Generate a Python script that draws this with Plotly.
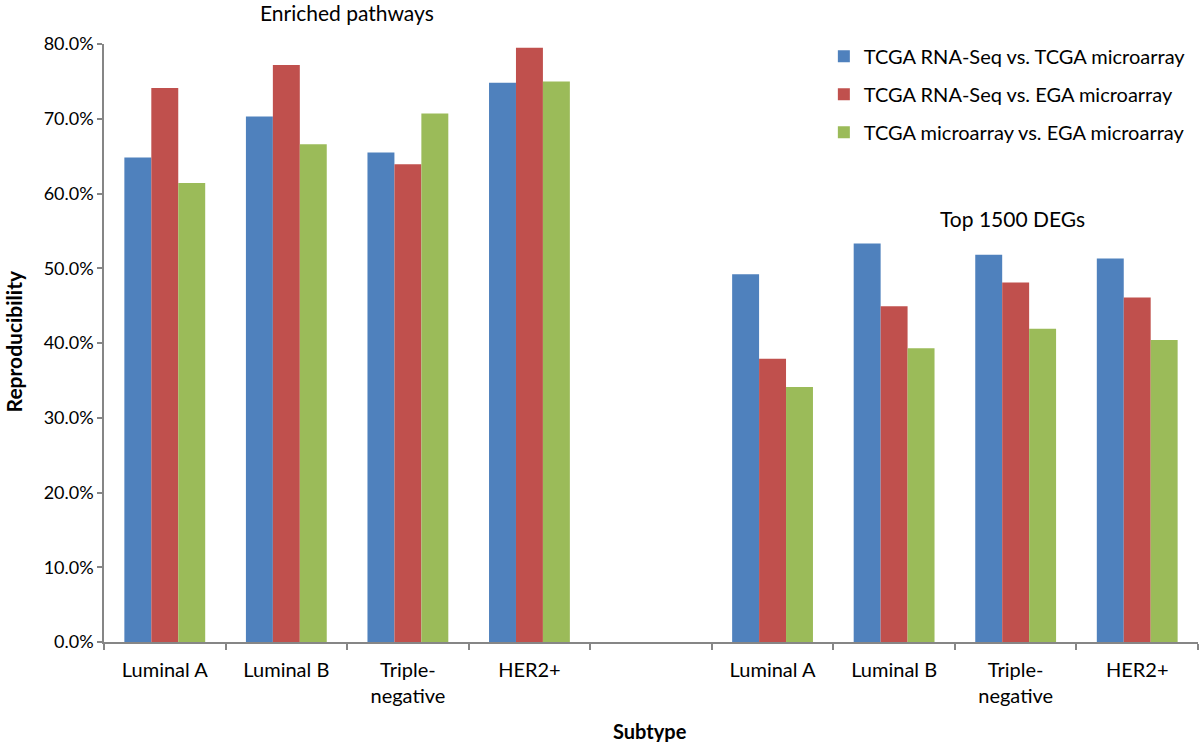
import plotly.graph_objects as go

subtypes = ["Luminal A", "Luminal B", "Triple-<br>negative", "HER2+"]
panels = ["Enriched pathways", "Top 1500 DEGs"]
series_names = [
    "TCGA RNA-Seq vs. TCGA microarray",
    "TCGA RNA-Seq vs. EGA microarray",
    "TCGA microarray vs. EGA microarray",
]
# reproducibility (fraction) per subtype, enriched pathways then top 1500 DEGs
rnaseq_vs_tcga_array = [0.648, 0.703, 0.655, 0.748, 0.492, 0.533, 0.518, 0.513]
rnaseq_vs_ega_array = [0.741, 0.772, 0.639, 0.795, 0.379, 0.449, 0.481, 0.461]
tcga_array_vs_ega_array = [0.614, 0.666, 0.707, 0.750, 0.341, 0.393, 0.419, 0.404]

colors = ["#4F81BD", "#C0504D", "#9BBB59"]
FONT = "Lato"
AXIS_GREY = "#868686"

# 4 subtypes, an empty gap slot, 4 subtypes
x_pos = [0, 1, 2, 3, 5, 6, 7, 8]
tick_text = subtypes + [""] + subtypes

fig = go.Figure()
for name, vals, col in zip(series_names,
                           [rnaseq_vs_tcga_array, rnaseq_vs_ega_array, tcga_array_vs_ega_array],
                           colors):
    fig.add_trace(go.Bar(x=x_pos, y=vals, name=name, marker=dict(color=col, line_width=0),
                         legendgroup=name))

fig.update_layout(
    width=1200, height=742,
    paper_bgcolor="white", plot_bgcolor="white",
    font=dict(family=FONT, size=18, color="black"),
    barmode="group", bargap=0.335, bargroupgap=0,
    margin=dict(l=104, r=2, t=44, b=100),
    legend=dict(x=0.658, y=1.012, xanchor="left", yanchor="top",
                font=dict(size=20), traceorder="grouped", tracegroupgap=9,
                bgcolor="rgba(0,0,0,0)"),
    xaxis=dict(range=[-0.5, 8.5], tickmode="array", tickvals=list(range(9)), ticktext=tick_text,
               tickfont=dict(size=20), automargin=False,
               ticks="", showline=True, linecolor=AXIS_GREY, linewidth=1.5, showgrid=False,
               zeroline=False, ticklabelstandoff=9,
               minor=dict(tickmode="array", tickvals=[i - 0.5 for i in range(10)],
                          ticks="outside", ticklen=6, tickcolor=AXIS_GREY, tickwidth=1.5,
                          showgrid=False)),
    yaxis=dict(range=[0, 0.8], dtick=0.1, tickformat=".1%", ticks="outside", ticklen=5,
               tickcolor=AXIS_GREY, tickwidth=1.5, showline=True, linecolor=AXIS_GREY,
               linewidth=1.5, showgrid=False, zeroline=False, automargin=False),
)

# axis titles
fig.add_annotation(text="<b>Reproducibility</b>", x=-0.083, y=0.503, xref="paper", yref="paper",
                   xanchor="center", yanchor="middle", textangle=-90, showarrow=False,
                   font=dict(size=21))
fig.add_annotation(text="<b>Subtype</b>", x=0.499, y=-0.149, xref="paper", yref="paper",
                   xanchor="center", yanchor="middle", showarrow=False, font=dict(size=20))

# panel labels
fig.add_annotation(text=panels[0], x=1.5, y=1.0, xref="x", yref="paper", yshift=32,
                   yanchor="middle", showarrow=False, font=dict(size=21))
fig.add_annotation(text=panels[1], x=6.97, y=0.567, xref="x", yref="y",
                   yanchor="middle", showarrow=False, font=dict(size=21))

# drop the page's default body margin so the figure fills the window exactly
fig.write_html("out.html", config={"displayModeBar": False},
               post_script="document.body.style.margin = '0';")
